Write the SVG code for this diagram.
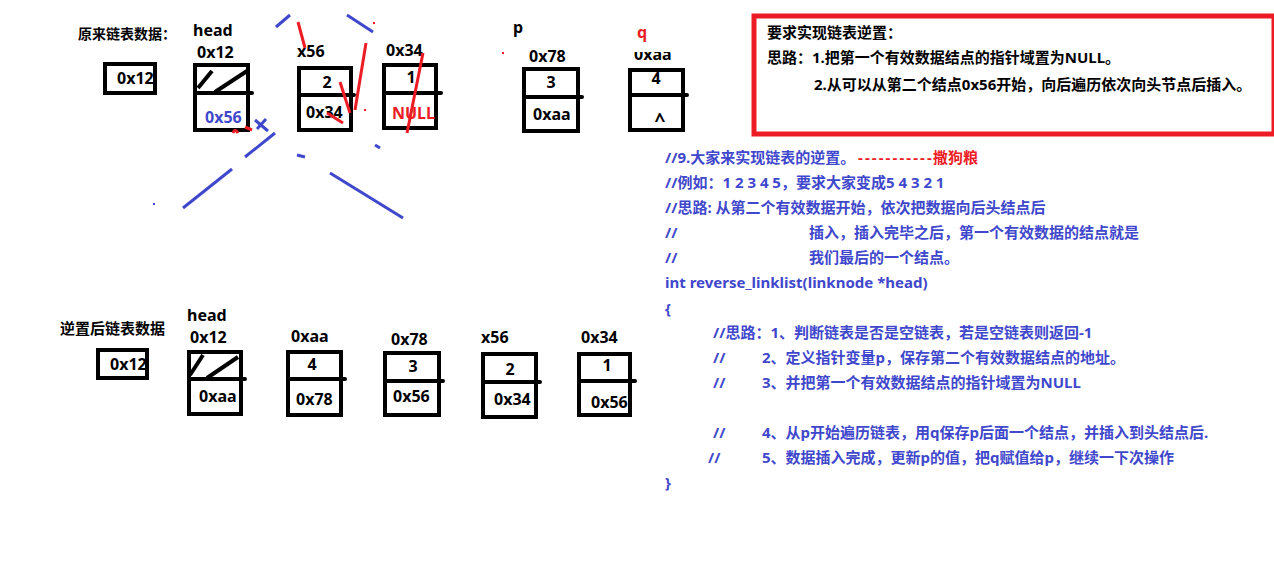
<svg xmlns="http://www.w3.org/2000/svg" width="1274" height="574" viewBox="0 0 1274 574">
<defs>
<style>
text{font-family:"Noto Sans","Noto Sans CJK SC",sans-serif;font-weight:bold;}
.t{font-size:15px;fill:#000;}
.lbl{font-size:16px;fill:#000;}
.cn{font-size:15px;fill:#000;}
.code{font-size:15px;fill:#3f48cc;}
.red{fill:#ed1c24;}
.blue{fill:#3f48cc;}
.box{fill:none;stroke:#000;stroke-width:4;}
.div{stroke:#000;stroke-width:4;stroke-linecap:round;}
.hatch{stroke:#000;stroke-width:4;}
.bs{stroke:#3f48cc;stroke-width:3;fill:none;}
.rs{stroke:#ed1c24;stroke-width:3;fill:none;}
.mid{text-anchor:middle;}
</style>
<clipPath id="cut"><rect x="600" y="52" width="120" height="20"/></clipPath>
</defs>
<rect width="1274" height="574" fill="#fff"/>

<!-- Original list -->
<text class="cn" x="78" y="39" style="font-size:14px">原来链表数据：</text>
<g id="ptr-top">
<rect class="box" x="105" y="64" width="50" height="29"/>
<text class="lbl" x="117" y="84">0x12</text>
</g>
<g id="head-top">
<text class="lbl" x="193" y="36">head</text>
<text class="lbl" x="197" y="58">0x12</text>
<rect class="box" x="195" y="65" width="53" height="65"/>
<line class="div" x1="195" y1="93" x2="252" y2="93"/>
<line class="hatch" x1="198" y1="88" x2="212" y2="71"/>
<line class="hatch" x1="215" y1="92" x2="247" y2="71"/>
<text class="lbl blue" x="205" y="123">0x56</text>
</g>
<g id="n-x56-top">
<text class="lbl" x="297" y="57">x56</text>
<rect class="box" x="299" y="68" width="52" height="62"/>
<line class="div" x1="299" y1="95" x2="354" y2="95"/>
<text class="lbl mid" x="327" y="88">2</text>
<text class="lbl" x="306" y="118">0x34</text>
</g>
<g id="n-0x34-top">
<text class="lbl" x="386" y="56">0x34</text>
<rect class="box" x="384" y="65" width="52" height="63"/>
<line class="div" x1="384" y1="93" x2="441" y2="93"/>
<text class="lbl mid" x="411" y="83">1</text>
<text class="lbl red" x="392" y="119">NULL</text>
</g>
<g id="n-0x78-top">
<text class="lbl" x="513" y="33">p</text>
<text class="lbl" x="529" y="62">0x78</text>
<rect class="box" x="524" y="69" width="54" height="62"/>
<line class="div" x1="524" y1="97" x2="582" y2="97"/>
<text class="lbl mid" x="551" y="88">3</text>
<text class="lbl" x="533" y="120">0xaa</text>
</g>
<g id="n-0xaa-top">
<text class="lbl red" x="637" y="38">q</text>
<text class="lbl" x="634" y="60" clip-path="url(#cut)">0xaa</text>
<rect class="box" x="630" y="70" width="53" height="60"/>
<line class="div" x1="630" y1="95" x2="687" y2="95"/>
<text class="lbl mid" x="656" y="84">4</text>
<text class="lbl mid" x="660" y="127" style="font-size:19px">^</text>
</g>

<!-- Task box -->
<g id="task">
<rect x="754" y="16" width="520" height="118" fill="none" stroke="#ed1c24" stroke-width="5"/>
<text class="cn" x="767" y="38">要求实现链表逆置：</text>
<text class="cn" x="767" y="63">思路：1.把第一个有效数据结点的指针域置为NULL。</text>
<text class="cn" x="814" y="90">2.从可以从第二个结点0x56开始，向后遍历依次向头节点后插入。</text>
</g>

<!-- Code -->
<g id="code">
<text class="code" x="665" y="163">//9.大家来实现链表的逆置。<tspan class="red" x="858" style="letter-spacing:2.1px">-----------</tspan><tspan class="red" x="933">撒狗粮</tspan></text>
<text class="code" x="665" y="188">//例如：1 2 3 4 5，要求大家变成5 4 3 2 1</text>
<text class="code" x="665" y="213">//思路: 从第二个有效数据开始，依次把数据向后头结点后</text>
<text class="code" x="665" y="238">//<tspan x="809">插入，插入完毕之后，第一个有效数据的结点就是</tspan></text>
<text class="code" x="665" y="263">//<tspan x="809">我们最后的一个结点。</tspan></text>
<text class="code" x="665" y="288">int reverse_linklist(linknode *head)</text>
<text class="code" x="665" y="314">{</text>
<text class="code" x="713" y="338">//思路：1、判断链表是否是空链表，若是空链表则返回-1</text>
<text class="code" x="713" y="363">//<tspan x="762">2、定义指针变量p，保存第二个有效数据结点的地址。</tspan></text>
<text class="code" x="713" y="388">//<tspan x="762">3、并把第一个有效数据结点的指针域置为NULL</tspan></text>
<text class="code" x="713" y="438">//<tspan x="762">4、从p开始遍历链表，用q保存p后面一个结点，并插入到头结点后.</tspan></text>
<text class="code" x="708" y="463">//<tspan x="762">5、数据插入完成，更新p的值，把q赋值给p，继续一下次操作</tspan></text>
<text class="code" x="665" y="488">}</text>
</g>

<!-- Reversed list -->
<text class="t" x="60" y="334">逆置后链表数据</text>
<g id="ptr-bottom">
<rect class="box" x="98" y="350" width="49" height="28"/>
<text class="lbl" x="110" y="370">0x12</text>
</g>
<g id="head-bottom">
<text class="lbl" x="187" y="321">head</text>
<text class="lbl" x="190" y="343">0x12</text>
<rect class="box" x="189" y="352" width="52" height="62"/>
<line class="div" x1="189" y1="379" x2="245" y2="379"/>
<line class="hatch" x1="190" y1="375" x2="203" y2="355"/>
<line class="hatch" x1="207" y1="378" x2="238" y2="357"/>
<text class="lbl" x="199" y="402">0xaa</text>
</g>
<g id="n-0xaa-bottom">
<text class="lbl" x="291" y="342">0xaa</text>
<rect class="box" x="288" y="352" width="53" height="63"/>
<line class="div" x1="288" y1="379" x2="345" y2="379"/>
<text class="lbl mid" x="312" y="370">4</text>
<text class="lbl" x="296" y="405">0x78</text>
</g>
<g id="n-0x78-bottom">
<text class="lbl" x="391" y="345">0x78</text>
<rect class="box" x="385" y="353" width="54" height="62"/>
<line class="div" x1="385" y1="381" x2="443" y2="381"/>
<text class="lbl mid" x="413" y="372">3</text>
<text class="lbl" x="393" y="402">0x56</text>
</g>
<g id="n-x56-bottom">
<text class="lbl" x="481" y="343">x56</text>
<rect class="box" x="483" y="354" width="53" height="63"/>
<line class="div" x1="483" y1="382" x2="540" y2="382"/>
<text class="lbl mid" x="510" y="375">2</text>
<text class="lbl" x="494" y="405">0x34</text>
</g>
<g id="n-0x34-bottom">
<text class="lbl" x="581" y="343">0x34</text>
<rect class="box" x="579" y="354" width="51" height="61"/>
<line class="div" x1="579" y1="381" x2="635" y2="381"/>
<text class="lbl mid" x="607" y="371">1</text>
<text class="lbl" x="591" y="408">0x56</text>
</g>

<!-- Scribbles -->
<g id="connectors">
<line class="bs" x1="276" y1="27" x2="290" y2="15"/>
<line class="bs" x1="347" y1="15" x2="373" y2="32"/>
<line class="bs" x1="255" y1="120" x2="268" y2="131"/>
<line class="bs" x1="257" y1="129" x2="266" y2="119"/>
<line class="bs" x1="275" y1="133" x2="245" y2="157"/>
<line class="bs" x1="232" y1="169" x2="183" y2="208"/>
<line class="bs" x1="297" y1="155" x2="305" y2="157"/>
<line class="bs" x1="330" y1="173" x2="403" y2="218"/>
<line class="bs" x1="375" y1="145" x2="380" y2="148"/>
<line class="rs" x1="298" y1="22" x2="305" y2="48"/>
<line class="rs" x1="340" y1="82" x2="350" y2="113"/>
<line class="rs" x1="355" y1="110" x2="366" y2="43"/>
<line class="rs" x1="327" y1="113" x2="343" y2="123"/>
<line class="rs" x1="423" y1="53" x2="407" y2="133"/>
<path class="rs" d="M233,133 Q235,128 238,133"/>
<line class="rs" x1="245" y1="127" x2="252" y2="130"/>
<rect x="364" y="109" width="2" height="2" fill="#ed1c24"/>
<rect x="502" y="52" width="2" height="2" fill="#ed1c24"/>
<rect x="373" y="22" width="2" height="2" fill="#ed1c24"/>
<rect x="153" y="203" width="2" height="2" fill="#3f48cc"/>
</g>
</svg>
